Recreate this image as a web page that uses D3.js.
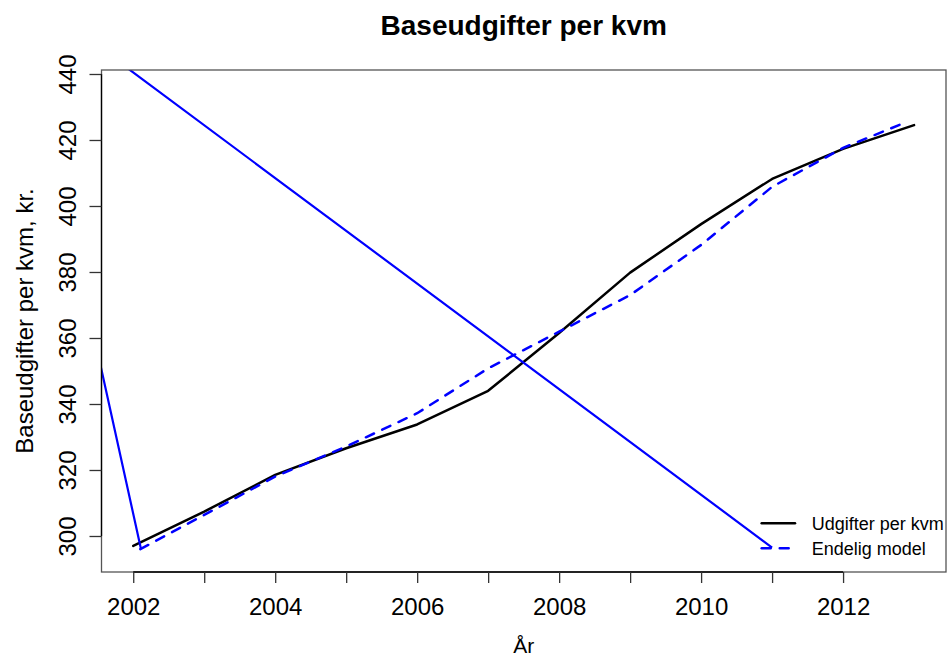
<!DOCTYPE html>
<html>
<head>
<meta charset="utf-8">
<script src="https://cdn.jsdelivr.net/npm/d3@7"></script>
<style>
  body { margin: 0; background: #fff; }
  svg { display: block; font-family: "Liberation Sans", Arial, sans-serif; }
</style>
</head>
<body>
<div id="chart"></div>
<script>
// data
const years = [2002, 2003, 2004, 2005, 2006, 2007, 2008, 2009, 2010, 2011, 2012, 2013];
const udgifter = [297.0, 307.4, 318.5, 326.6, 333.8, 344.0, 361.5, 379.8, 394.5, 408.2, 417.3, 424.5];

const modelYears = [2002.1, 2003, 2004, 2005, 2006, 2007, 2008, 2009, 2010, 2011, 2012, 2012.82];
const modelValues = [296.0, 306.4, 318.0, 327.1, 337.2, 350.8, 361.9, 373.0, 388.2, 405.8, 417.6, 424.8];

// the stray solid blue line (partly outside the plot region)
const strayYears = [2011.0, 2000.36, 2002.11];
const strayValues = [296.5, 466.7, 296.0];

const xTicks = [2002, 2003, 2004, 2005, 2006, 2007, 2008, 2009, 2010, 2011, 2012];
const xLabels = [2002, 2004, 2006, 2008, 2010, 2012];
const yTicks = [300, 320, 340, 360, 380, 400, 420, 440];
const legendLabels = ["Udgifter per kvm", "Endelig model"];

const width = 947, height = 659;
const plotL = 101.5, plotR = 946, plotT = 70, plotB = 572;

const svg = d3.select("#chart").append("svg")
	.attr("width", width)
	.attr("height", height);

const x = d3.scaleLinear().domain([2001.553, 2013.45]).range([plotL, plotR]);
const y = d3.scaleLinear().domain([289.09, 441.21]).range([plotB, plotT]);

svg.append("defs").append("clipPath")
	.attr("id", "plotclip")
	.append("rect")
		.attr("x", plotL)
		.attr("y", plotT)
		.attr("width", plotR - plotL)
		.attr("height", plotB - plotT);

const line = d3.line()
	.x(d => x(d[0]))
	.y(d => y(d[1]));

const plot = svg.append("g").attr("clip-path", "url(#plotclip)");

plot.append("path")
	.datum(years.map((d, i) => [d, udgifter[i]]))
	.attr("fill", "none")
	.attr("stroke", "#000")
	.attr("stroke-width", 2.5)
	.attr("stroke-linejoin", "round")
	.attr("stroke-linecap", "round")
	.attr("d", line);

plot.append("path")
	.datum(modelYears.map((d, i) => [d, modelValues[i]]))
	.attr("fill", "none")
	.attr("stroke", "#0000ff")
	.attr("stroke-width", 2.5)
	.attr("stroke-dasharray", "9,9")
	.attr("stroke-linecap", "round")
	.attr("d", line);

plot.append("path")
	.datum(strayYears.map((d, i) => [d, strayValues[i]]))
	.attr("fill", "none")
	.attr("stroke", "#0000ff")
	.attr("stroke-width", 2.2)
	.attr("d", line);

// box
svg.append("rect")
	.attr("x", plotL)
	.attr("y", plotT)
	.attr("width", plotR - plotL)
	.attr("height", plotB - plotT)
	.attr("fill", "none")
	.attr("stroke", "#555")
	.attr("stroke-width", 1.3);

// axes
const axisX = d3.axisBottom(x)
	.tickValues(xTicks)
	.tickSize(11)
	.tickFormat(d => xLabels.includes(d) ? d : "");

const gx = svg.append("g")
	.attr("transform", `translate(0,${plotB})`)
	.call(axisX);
gx.select(".domain")
	.attr("d", `M${x(xTicks[0])},0H${x(xTicks[xTicks.length - 1])}`)
	.attr("stroke", "#000")
	.attr("stroke-width", 1.3);
gx.selectAll(".tick line").attr("stroke", "#333").attr("stroke-width", 1.3);
gx.selectAll(".tick text")
	.attr("font-size", 24)
	.attr("font-family", "Liberation Sans, Arial, sans-serif")
	.attr("fill", "#000")
	.attr("dy", null)
	.attr("y", 43);

const axisY = d3.axisLeft(y)
	.tickValues(yTicks)
	.tickSize(12);

const gy = svg.append("g")
	.attr("transform", `translate(${plotL},0)`)
	.call(axisY);
gy.select(".domain")
	.attr("d", `M0,${y(yTicks[0])}V${y(yTicks[yTicks.length - 1])}`)
	.attr("stroke", "#000")
	.attr("stroke-width", 1.3);
gy.selectAll(".tick line").attr("stroke", "#333").attr("stroke-width", 1.3);
gy.selectAll(".tick text")
	.attr("font-size", 24)
	.attr("font-family", "Liberation Sans, Arial, sans-serif")
	.attr("fill", "#000")
	.attr("x", null)
	.attr("dy", null)
	.attr("text-anchor", "middle")
	.attr("transform", "translate(-25.5,0) rotate(-90)");

// titles
svg.append("text")
	.attr("x", (plotL + plotR) / 2)
	.attr("y", 35)
	.attr("text-anchor", "middle")
	.attr("font-size", 28)
	.attr("font-weight", "bold")
	.text("Baseudgifter per kvm");

svg.append("text")
	.attr("x", (plotL + plotR) / 2)
	.attr("y", 653)
	.attr("text-anchor", "middle")
	.attr("font-size", 21)
	.text("År");

svg.append("text")
	.attr("transform", `translate(32.5,${(plotT + plotB) / 2}) rotate(-90)`)
	.attr("text-anchor", "middle")
	.attr("font-size", 24)
	.text("Baseudgifter per kvm, kr.");

// legend
const legend = svg.append("g").attr("transform", "translate(761.7,523.3)");
const legendStyles = [
	{stroke: "#000", dash: null},
	{stroke: "#0000ff", dash: "9,9"}
];
legend.selectAll("g")
	.data(legendLabels)
	.enter()
	.append("g")
		.attr("transform", (d, i) => `translate(0,${i * 25})`)
		.each(function(d, i) {
			const g = d3.select(this);
			g.append("line")
				.attr("x1", 0).attr("x2", 33.3)
				.attr("stroke", legendStyles[i].stroke)
				.attr("stroke-width", 2.5)
				.attr("stroke-linecap", "round")
				.attr("stroke-dasharray", legendStyles[i].dash);
			g.append("text")
				.attr("x", 50)
				.attr("y", 6.5)
				.attr("font-size", 18)
				.text(d);
		});
</script>
</body>
</html>
